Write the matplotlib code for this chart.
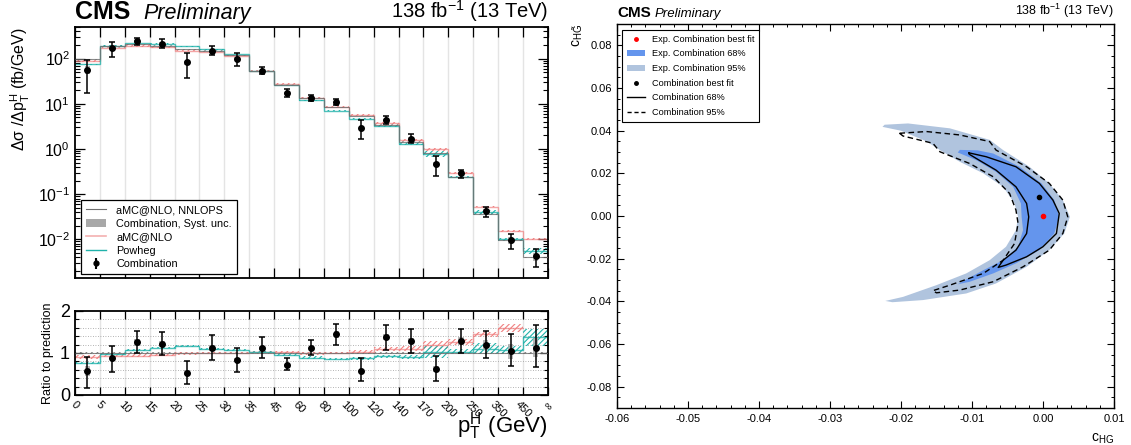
import numpy as np
import matplotlib
matplotlib.use("Agg")
import matplotlib.pyplot as plt
from matplotlib.lines import Line2D
from matplotlib.patches import Patch
from matplotlib.ticker import LogLocator, NullFormatter, MultipleLocator, FixedLocator

plt.rcParams['font.family'] = ['Liberation Sans', 'DejaVu Sans']
plt.rcParams['mathtext.fontset'] = 'custom'
plt.rcParams['mathtext.rm'] = 'Liberation Sans'
plt.rcParams['mathtext.it'] = 'Liberation Sans:italic'
plt.rcParams['mathtext.bf'] = 'Liberation Sans:bold'
plt.rcParams['hatch.linewidth'] = 0.8

# ---- left: differential pT(H) spectrum ----
edge_labels = ['0', '5', '10', '15', '20', '25', '30', '35', '45', '60', '80', '100',
               '120', '140', '170', '200', '250', '350', '450', '∞']

# predictions (fb/GeV)
nnlops = [97, 191, 208, 191, 161, 148, 119, 53, 26.6, 13.4, 8.4, 5.5, 3.4, 1.43, 0.80, 0.237, 0.037, 0.0095, 0.0040]
amcnlo = [89, 176, 192, 180, 150, 142, 116, 53, 27.5, 13.6, 8.6, 5.7, 3.8, 1.56, 0.99, 0.296, 0.053, 0.0153, 0.0103]
powheg = [75, 190, 222, 214, 186, 160, 127, 53, 25.8, 11.9, 7.1, 4.7, 3.2, 1.30, 0.78, 0.24, 0.040, 0.0101, 0.0055]
nnlops_unc = [0.03] * 19
amcnlo_unc = [0.05, 0.04, 0.04, 0.04, 0.03, 0.03, 0.03, 0.03, 0.03, 0.03, 0.03, 0.03, 0.04, 0.05, 0.08, 0.05, 0.04, 0.06, 0.06]
powheg_unc = [0.03, 0.03, 0.02, 0.02, 0.02, 0.02, 0.02, 0.02, 0.03, 0.03, 0.03, 0.03, 0.04, 0.05, 0.14, 0.06, 0.12, 0.08, 0.15]

# measured combination
comb = [57, 170, 240, 215, 82, 150, 100, 54, 17.5, 13.6, 11, 2.9, 4.4, 1.7, 0.46, 0.29, 0.042, 0.0095, 0.0042]
comb_lo = [17, 110, 200, 170, 38, 120, 70, 45, 14, 11.5, 9.3, 1.7, 3.5, 1.35, 0.25, 0.23, 0.032, 0.006, 0.0024]
comb_hi = [95, 230, 290, 270, 130, 190, 135, 65, 21, 15.5, 12.6, 4.4, 5.4, 2.1, 0.70, 0.35, 0.053, 0.013, 0.006]
comb_syst = [0.2, 0.07, 0.06, 0.06, 0.1, 0.06, 0.06, 0.05, 0.05, 0.05, 0.05, 0.08, 0.06, 0.06, 0.1, 0.07, 0.1, 0.17, 0.2]

# ratio to NNLOPS prediction
ratio_amc = [0.91, 0.93, 0.93, 0.96, 0.99, 1.0, 1.0, 1.02, 1.02, 0.99, 1.0, 1.03, 1.1, 1.1, 1.2, 1.26, 1.44, 1.6, 2.6]
ratio_pow = [0.77, 0.98, 1.08, 1.13, 1.17, 1.1, 1.08, 1.02, 0.96, 0.89, 0.85, 0.87, 0.92, 0.91, 1.03, 1.03, 1.1, 1.07, 1.37]
ratio_comb = [0.57, 0.87, 1.25, 1.22, 0.53, 1.12, 0.83, 1.12, 0.71, 1.12, 1.44, 0.58, 1.38, 1.28, 0.62, 1.28, 1.20, 1.04, 1.13]
ratio_lo = [0.16, 0.55, 0.99, 0.95, 0.26, 0.83, 0.55, 0.87, 0.59, 0.95, 1.20, 0.33, 1.08, 1.00, 0.33, 1.01, 0.89, 0.68, 0.66]
ratio_hi = [0.91, 1.17, 1.52, 1.49, 0.80, 1.42, 1.11, 1.37, 0.87, 1.32, 1.68, 0.87, 1.67, 1.56, 0.93, 1.56, 1.52, 1.46, 1.67]

# ---- right: c_HG vs c_HGtilde scan ----
exp95_x = [-0.0223, -0.0190, -0.0131, -0.0075, -0.0056, -0.0019, 0.0009, 0.0028, 0.0038, 0.0030, 0.0009,
           -0.0023, -0.0066, -0.0108, -0.0169, -0.0212, -0.0222, -0.0197, -0.0150, -0.0108, -0.0075,
           -0.0052, -0.0038, -0.0035, -0.0040, -0.0056, -0.0084, -0.0117, -0.0145, -0.0164, -0.0200, -0.0226]
exp95_y = [0.0428, 0.0434, 0.0411, 0.0357, 0.0309, 0.0231, 0.0153, 0.0075, -0.0004, -0.0082, -0.0160,
           -0.0238, -0.0316, -0.0363, -0.0394, -0.0404, -0.0398, -0.0379, -0.0324, -0.0269, -0.0207,
           -0.0144, -0.0066, -0.0004, 0.0059, 0.0137, 0.0200, 0.0254, 0.0309, 0.0350, 0.0400, 0.0418]
exp68_x = [-0.0117, -0.0092, -0.0070, -0.0033, -0.0002, 0.0016, 0.0023, 0.0016, -0.0005, -0.0038, -0.0070,
           -0.0103, -0.0120, -0.0110, -0.0084, -0.0056, -0.0035, -0.0028, -0.0030, -0.0031, -0.0042,
           -0.0066, -0.0094, -0.0120]
exp68_y = [0.0310, 0.0308, 0.0293, 0.0231, 0.0153, 0.0075, -0.0004, -0.0082, -0.0160, -0.0222, -0.0269,
           -0.0308, -0.0320, -0.0301, -0.0254, -0.0207, -0.0144, -0.0066, -0.0004, 0.0059, 0.0137,
           0.0207, 0.0262, 0.0298]
obs68_x = [-0.0104, -0.0080, -0.0038, -0.0005, 0.0014, 0.0023, 0.0019, 0.0000, -0.0023, -0.0052, -0.0063,
           -0.0056, -0.0038, -0.0023, -0.0020, -0.0023, -0.0038, -0.0066, -0.0094, -0.0104]
obs68_y = [0.0296, 0.0278, 0.0231, 0.0153, 0.0075, 0.0012, -0.0082, -0.0144, -0.0191, -0.0230, -0.0241,
           -0.0207, -0.0160, -0.0082, -0.0004, 0.0059, 0.0137, 0.0215, 0.0270, 0.0290]
obs95_x = [-0.0202, -0.0164, -0.0117, -0.0075, -0.0066, -0.0023, 0.0009, 0.0028, 0.0035, 0.0028, 0.0009,
           -0.0028, -0.0070, -0.0117, -0.0150, -0.0155, -0.0131, -0.0084, -0.0056, -0.0040, -0.0035,
           -0.0038, -0.0047, -0.0070, -0.0103, -0.0145, -0.0155, -0.0197, -0.0202]
obs95_y = [0.0388, 0.0396, 0.0380, 0.0349, 0.0309, 0.0231, 0.0153, 0.0075, -0.0004, -0.0082, -0.0160,
           -0.0238, -0.0308, -0.0347, -0.0360, -0.0350, -0.0324, -0.0269, -0.0207, -0.0129, -0.0035,
           0.0028, 0.0106, 0.0184, 0.0246, 0.0301, 0.0341, 0.0375, 0.0388]
obs_best = (-0.0006, 0.0088)
exp_best = (0.0, 0.0)

c_gray = '#6e6e6e'
c_amc = '#f08080'
c_pow = '#20b2aa'

fig = plt.figure(figsize=(11.31, 4.45), dpi=100)
ax = fig.add_axes([0.0663, 0.3753, 0.4182, 0.5640])
axr = fig.add_axes([0.0663, 0.1124, 0.4182, 0.1888], sharex=ax)
ax2 = fig.add_axes([0.5455, 0.0831, 0.4394, 0.8629])

edges = np.arange(len(edge_labels))
centers = edges[:-1] + 0.5

nn = np.array(nnlops); am = np.array(amcnlo); pw = np.array(powheg)
nu = np.array(nnlops_unc); au = np.array(amcnlo_unc); pu = np.array(powheg_unc)
cv = np.array(comb); cs = np.array(comb_syst)

# top panel
for e in edges[1:-1]:
    ax.axvline(e, color='#e4e4e4', lw=1, zorder=0)
    axr.axvline(e, color='#e4e4e4', lw=1, zorder=0)

ax.bar(edges[:-1], 2 * nu * nn, bottom=nn * (1 - nu), width=1, align='edge', fill=False,
       hatch='//////', edgecolor='#909090', lw=0, zorder=1)
ax.bar(edges[:-1], 2 * au * am, bottom=am * (1 - au), width=1, align='edge', fill=False,
       hatch='//////', edgecolor=c_amc, lw=0, zorder=1)
ax.bar(edges[:-1], 2 * pu * pw, bottom=pw * (1 - pu), width=1, align='edge', fill=False,
       hatch='//////', edgecolor=c_pow, lw=0, zorder=1)
ax.stairs(am, edges, baseline=None, color=c_amc, lw=1.0, alpha=0.7, zorder=2)
ax.stairs(pw, edges, baseline=None, color=c_pow, lw=1.0, alpha=0.8, zorder=2)
ax.stairs(nn, edges, baseline=None, color=c_gray, lw=0.8, alpha=0.8, zorder=3)

ax.bar(centers, 2 * cs * cv, bottom=cv * (1 - cs), width=0.22, color='#a8a8a8', alpha=0.8, lw=0, zorder=4)
ax.errorbar(centers, cv, yerr=[cv - np.array(comb_lo), np.array(comb_hi) - cv], fmt='o', color='black',
            ms=4, lw=1.1, capsize=2.5, capthick=1.1, zorder=5)

ax.set_yscale('log')
ax.set_ylim(1.4e-3, 5e2)
ax.set_xlim(0, 19)
ax.yaxis.set_major_locator(LogLocator(base=10, numticks=12))
ax.yaxis.set_minor_locator(LogLocator(base=10, subs=np.arange(2, 10), numticks=12))
ax.yaxis.set_minor_formatter(NullFormatter())
ax.set_xticks(edges)
ax.tick_params(axis='x', which='both', labelbottom=False)
ax.tick_params(direction='in', top=True, right=True, which='major', length=7, width=0.9, labelsize=11.5)
ax.tick_params(direction='in', top=True, right=True, which='minor', length=3.5, width=0.8)
ax.set_ylabel('Δσ /Δ$\\mathrm{p}_{\\mathrm{T}}^{\\mathrm{H}}$ (fb/GeV)', fontsize=11.5, loc='top', labelpad=4)
for s in ax.spines.values():
    s.set_linewidth(1.3)

ax.text(0.0, 1.012, 'CMS', transform=ax.transAxes, fontsize=18, fontweight='bold', ha='left', va='bottom')
ax.text(0.145, 1.012, 'Preliminary', transform=ax.transAxes, fontsize=15.5, style='italic', ha='left', va='bottom')
ax.text(1.0, 1.012, '138 fb$^{-1}$ (13 TeV)', transform=ax.transAxes, fontsize=14.5, ha='right', va='bottom')

handles = [Line2D([], [], color=c_gray, lw=0.8),
           Patch(facecolor='#a8a8a8', edgecolor='none'),
           Line2D([], [], color='#f4b0b0', lw=1.2),
           Line2D([], [], color=c_pow, lw=1.0),
           ax.errorbar([], [], yerr=[], fmt='o', color='black', ms=3.5, capsize=2)]
labels = ['aMC@NLO, NNLOPS', 'Combination, Syst. unc.', 'aMC@NLO', 'Powheg', 'Combination']
leg = ax.legend(handles, labels, loc='lower left', bbox_to_anchor=(0.0127, 0.016), borderaxespad=0,
                fontsize=7.8, frameon=True, fancybox=False, edgecolor='black', framealpha=1,
                handlelength=1.9, handletextpad=0.9, labelspacing=0.32, borderpad=0.45)
leg.get_frame().set_linewidth(0.9)

# ratio panel
ra = np.array(ratio_amc); rp = np.array(ratio_pow); rc = np.array(ratio_comb)
for yv in np.arange(0.2, 2.0, 0.2):
    axr.axhline(yv, color='#9a9a9a', lw=0.6, ls=(0, (1, 2)), zorder=0)
axr.bar(edges[:-1], 2 * nu, bottom=1 - nu, width=1, align='edge', fill=False,
        hatch='//////', edgecolor='#808080', lw=0, zorder=1)
axr.bar(edges[:-1], 2 * au * ra, bottom=ra * (1 - au), width=1, align='edge', fill=False,
        hatch='//////', edgecolor=c_amc, lw=0, zorder=1)
axr.bar(edges[:-1], 2 * pu * rp, bottom=rp * (1 - pu), width=1, align='edge', fill=False,
        hatch='//////', edgecolor=c_pow, lw=0, zorder=1)
# last aMC@NLO bin is off scale (ratio > 2), so its step is left out
axr.stairs(ra[:-1], edges[:-1], baseline=None, color=c_amc, lw=1.0, alpha=0.7, zorder=2)
axr.stairs(rp, edges, baseline=None, color=c_pow, lw=1.0, alpha=0.8, zorder=2)
axr.stairs(np.ones(19), edges, baseline=None, color=c_gray, lw=0.8, alpha=0.8, zorder=3)
axr.bar(centers, 2 * cs * rc, bottom=rc * (1 - cs), width=0.22, color='#a8a8a8', alpha=0.8, lw=0, zorder=4)
axr.errorbar(centers, rc, yerr=[rc - np.array(ratio_lo), np.array(ratio_hi) - rc], fmt='o', color='black',
             ms=4, lw=1.1, capsize=2.5, capthick=1.1, zorder=5)
axr.set_ylim(0, 2)
axr.set_xlim(0, 19)
axr.yaxis.set_major_locator(FixedLocator([0, 1, 2]))
axr.yaxis.set_minor_locator(MultipleLocator(0.2))
axr.set_xticks(edges)
axr.set_xticklabels(edge_labels, rotation=-45, ha='center', va='top', fontsize=8)
axr.tick_params(direction='in', top=True, right=True, which='major', length=6, width=0.9)
axr.tick_params(axis='y', which='major', labelsize=13)
axr.tick_params(direction='in', right=True, which='minor', length=3, width=0.8)
axr.tick_params(axis='x', pad=3)
axr.set_ylabel('Ratio to prediction', fontsize=9, labelpad=4)
axr.set_xlabel('$\\mathrm{p}_{\\mathrm{T}}^{\\mathrm{H}}$ (GeV)', fontsize=16, loc='right')
axr.xaxis.set_label_coords(1.0, -0.18)
for s in axr.spines.values():
    s.set_linewidth(1.3)

# right panel: 2D scan
ax2.fill(exp95_x, exp95_y, color='#b0c4de', lw=0, zorder=1)
ax2.fill(exp68_x, exp68_y, color='#6495ed', lw=0, zorder=2)
ax2.plot(obs68_x + obs68_x[:1], obs68_y + obs68_y[:1], color='black', lw=1.0, zorder=3)
ax2.plot(obs95_x + obs95_x[:1], obs95_y + obs95_y[:1], color='black', lw=1.0, ls=(0, (4, 2.5)), zorder=3)
ax2.plot(*exp_best, 'o', color='red', ms=3, zorder=4)
ax2.plot(*obs_best, 'o', color='black', ms=3, zorder=4)

ax2.set_xlim(-0.06, 0.01)
ax2.set_ylim(-0.09, 0.09)
ax2.xaxis.set_major_locator(MultipleLocator(0.01))
ax2.xaxis.set_minor_locator(MultipleLocator(0.002))
ax2.yaxis.set_major_locator(MultipleLocator(0.02))
ax2.yaxis.set_minor_locator(MultipleLocator(0.005))
ax2.xaxis.set_major_formatter(lambda v, p: f'{v:.2f}')
ax2.yaxis.set_major_formatter(lambda v, p: f'{v:.2f}')
ax2.tick_params(direction='in', top=True, right=True, which='major', length=5, width=0.8, labelsize=8)
ax2.tick_params(direction='in', top=True, right=True, which='minor', length=2.5, width=0.7)
ax2.tick_params(axis='x', pad=4)
for s in ax2.spines.values():
    s.set_linewidth(1.0)
ax2.set_xlabel('$\\mathrm{c}_{\\mathrm{HG}}$', fontsize=10, loc='right', labelpad=6)
ax2.set_ylabel('$\\mathrm{c}_{\\mathrm{H\\tilde{G}}}$', fontsize=10, loc='top', labelpad=1)

ax2.text(0.0, 1.01, 'CMS', transform=ax2.transAxes, fontsize=11, fontweight='bold', ha='left', va='bottom')
ax2.text(0.075, 1.01, 'Preliminary', transform=ax2.transAxes, fontsize=9.5, style='italic', ha='left', va='bottom')
ax2.text(1.0, 1.01, '138 fb$^{-1}$ (13 TeV)', transform=ax2.transAxes, fontsize=9, ha='right', va='bottom')

h2 = [Line2D([], [], marker='o', color='red', ls='none', ms=2.5),
      Patch(facecolor='#6495ed', edgecolor='none'),
      Patch(facecolor='#b0c4de', edgecolor='none'),
      Line2D([], [], marker='o', color='black', ls='none', ms=2.5),
      Line2D([], [], color='black', lw=1.0),
      Line2D([], [], color='black', lw=1.0, ls=(0, (3, 2)))]
l2 = ['Exp. Combination best fit', 'Exp. Combination 68%', 'Exp. Combination 95%',
      'Combination best fit', 'Combination 68%', 'Combination 95%']
leg2 = ax2.legend(h2, l2, loc='upper left', bbox_to_anchor=(0.01, 0.984), borderaxespad=0,
                  fontsize=6.6, frameon=True, fancybox=False, edgecolor='black', framealpha=1,
                  handlelength=2.0, handletextpad=0.8, labelspacing=0.62, borderpad=0.5)
leg2.get_frame().set_linewidth(0.8)

fig.savefig('out.png', dpi=100)
